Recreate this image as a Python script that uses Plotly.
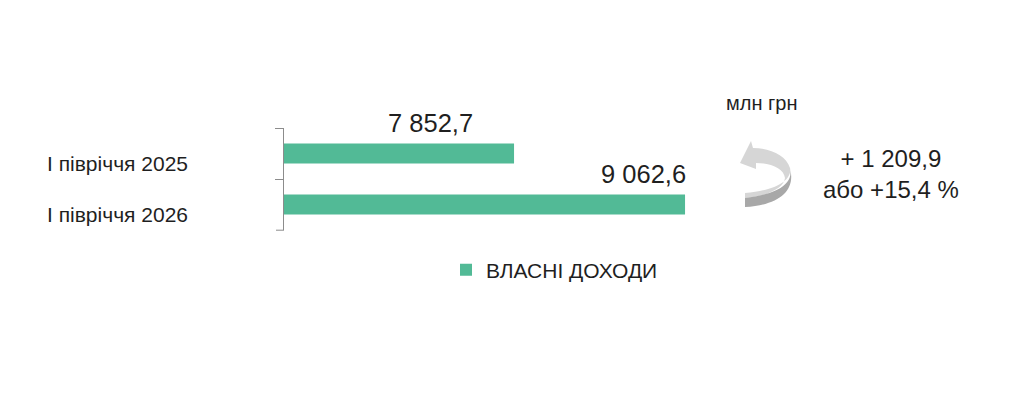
import plotly.graph_objects as go

W, H = 1024, 408

categories = ["I півріччя 2025", "I півріччя 2026"]
values = [7852.7, 9062.6]
series_name = "ВЛАСНІ ДОХОДИ"
unit_text = "млн грн"
change_abs = 1209.9
change_pct = 15.4
x_range = [6225, 9310]

bar_color = "#52BA96"
axis_color = "#8C8C8C"
text_color = "#1F1F1F"
FONT = "Liberation Sans, Arial, sans-serif"


def fmt(v):
    return f"{v:,.1f}".replace(",", " ").replace(".", ",")


def px(xp, yp):
    return xp / W, 1 - yp / H


fig = go.Figure()
fig.add_trace(go.Bar(
    y=categories, x=values, orientation="h", name=series_name,
    marker=dict(color=bar_color, line=dict(width=0)), width=0.39,
    showlegend=True, hoverinfo="skip",
))

ann = []
# category labels
for c in categories:
    ann.append(dict(x=190 / W, xref="paper", y=c, yref="y", xanchor="right",
                    yanchor="middle", yshift=-10, text=c, showarrow=False,
                    font=dict(size=21, color=text_color, family=FONT)))
# data labels
ann.append(dict(x=values[0], y=categories[0], xref="x", yref="y", text=fmt(values[0]),
                xanchor="center", yanchor="middle", xshift=-84, yshift=31, showarrow=False,
                font=dict(size=25.5, color=text_color, family=FONT)))
ann.append(dict(x=values[1], y=categories[1], xref="x", yref="y", text=fmt(values[1]),
                xanchor="right", yanchor="middle", xshift=3, yshift=31, showarrow=False,
                font=dict(size=25.5, color=text_color, family=FONT)))
# unit
ux, uy = px(761, 103)
ann.append(dict(x=ux, y=uy, xref="paper", yref="paper", text=unit_text, showarrow=False,
                xanchor="center", yanchor="middle",
                font=dict(size=20, color=text_color, family=FONT)))
# change text
cx, cy = px(891, 174)
ann.append(dict(x=cx, y=cy, xref="paper", yref="paper",
                text=f"+ {fmt(change_abs)}<br>або +{fmt(change_pct)} %",
                showarrow=False, xanchor="center", yanchor="middle", align="center",
                font=dict(size=24, color=text_color, family=FONT)))


def path(cmds):
    out = []
    for c in cmds:
        op = c[0]
        pts = c[1:]
        coords = []
        for i in range(0, len(pts), 2):
            X, Y = px(pts[i], pts[i + 1])
            coords.append(f"{X:.5f},{Y:.5f}")
        out.append(op + " ".join(coords))
    return " ".join(out) + " Z"


light = path([
    ("M", 740, 163),
    ("L", 751, 141),
    ("L", 753, 148),
    ("C", 770, 148, 786, 155, 790, 168),
    ("C", 792, 178, 780, 190, 745, 193),
    ("L", 745, 198),
    ("C", 770, 196, 784, 187, 785, 178),
    ("C", 784, 169, 772, 163, 756, 163),
    ("L", 756, 169),
])
dark = path([
    ("M", 790, 168),
    ("C", 793, 180, 785, 193, 745, 198),
    ("L", 745, 207),
    ("C", 780, 205, 796, 190, 790, 168),
])
shapes = [
    dict(type="path", path=light, xref="paper", yref="paper",
         fillcolor="#D6D6D6", line=dict(width=0)),
    dict(type="path", path=dark, xref="paper", yref="paper",
         fillcolor="#A8A8A8", line=dict(width=0)),
    # closing tick at the bottom end of the category axis
    dict(type="line", xref="x domain", yref="y domain", x0=-8 / 436, x1=0, y0=0, y1=0,
         line=dict(color=axis_color, width=1)),
]

fig.update_layout(
    width=W, height=H, margin=dict(l=0, r=0, t=0, b=0),
    paper_bgcolor="white", plot_bgcolor="white",
    font=dict(family=FONT, color=text_color),
    xaxis=dict(domain=[284 / W, 720 / W], range=x_range, visible=False, fixedrange=True),
    yaxis=dict(domain=[1 - 230.2 / H, 1 - 127.8 / H], type="category",
               categoryorder="array", categoryarray=categories,
               range=[1.504, -0.504], showticklabels=False, showgrid=False,
               showline=True, linecolor=axis_color, linewidth=1,
               ticks="outside", ticklen=8, tickcolor=axis_color, tickwidth=1,
               tickson="boundaries", zeroline=False, fixedrange=True),
    showlegend=True,
    legend=dict(x=446 / W, y=1 - 270 / H, xanchor="left", yanchor="middle",
                orientation="h", font=dict(size=21, color=text_color, family=FONT),
                bgcolor="rgba(0,0,0,0)"),
    annotations=ann, shapes=shapes,
)

fig.write_html("out.html", config={"displayModeBar": False},
               post_script="document.body.style.margin='0';")
